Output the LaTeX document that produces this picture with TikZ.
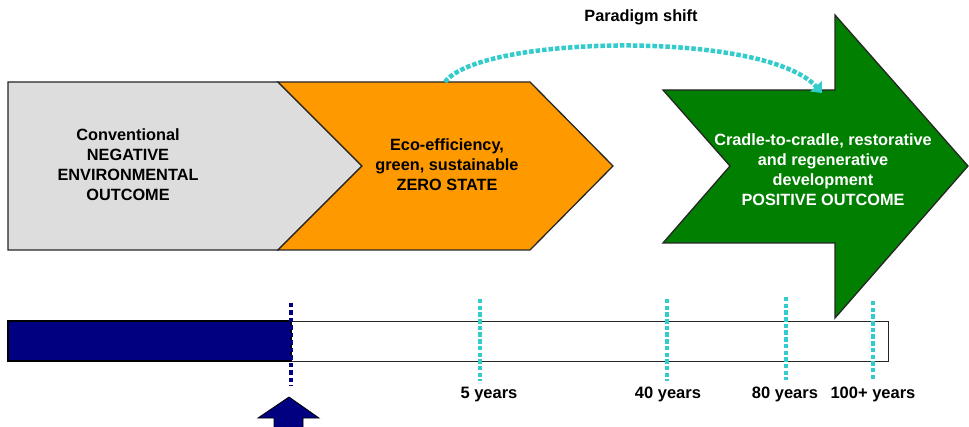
\documentclass[tikz,border=0pt]{standalone}
\usepackage{fontspec}
\setmainfont{Liberation Sans}
\usetikzlibrary{arrows.meta}
\definecolor{greyfill}{HTML}{DDDDDD}
\definecolor{orangefill}{HTML}{FF9900}
\definecolor{greenfill}{HTML}{007F00}
\definecolor{navyfill}{HTML}{000080}
\definecolor{cyanline}{HTML}{33CCCC}
\tikzset{
  shapeline/.style={draw=black!85, line width=1.3pt, line join=miter},
  lbl/.style={font=\bfseries\fontsize{16.3}{20}\selectfont, align=center, inner sep=0pt},
  yearlbl/.style={font=\bfseries\fontsize{16.5}{18}\selectfont, inner sep=0pt, anchor=base},
  cyantick/.style={draw=cyanline, line width=4.5pt, dash pattern=on 4.5pt off 2.2pt},
  navytick/.style={draw=navyfill, line width=4pt, dash pattern=on 4.5pt off 3pt},
}
\begin{document}
\begin{tikzpicture}[x=1pt,y=-1pt]
\useasboundingbox[fill=white] (0,0) rectangle (969,427);
% grey shape
\draw[shapeline, fill=greyfill] (8,82) -- (278,82) -- (362,166) -- (278,250) -- (8,250) -- cycle;
% orange chevron
\draw[shapeline, fill=orangefill] (278,82) -- (530,82) -- (613,166) -- (530,250) -- (278,250) -- (362,166) -- cycle;
% green arrow
\draw[shapeline, fill=greenfill] (663,90) -- (835,90) -- (835,15) -- (968,166) -- (835,318) -- (835,243) -- (663,243) -- (730,166) -- cycle;
% texts
\node[lbl, text=black] (conv) at (128,165) {Conventional\\NEGATIVE\\ENVIRONMENTAL\\OUTCOME};
\node[lbl, text=black] (eco) at (447,165) {Eco-efficiency,\\green, sustainable\\ZERO STATE};
\node[lbl, text=white] (cradle) at (823,170) {Cradle-to-cradle, restorative\\and regenerative\\development\\POSITIVE OUTCOME};
\node[lbl, text=black] (shift) at (641,17) {Paradigm shift};
% paradigm shift curve
\coordinate (ps0) at (445,82);
\coordinate (ps1) at (822,93);
\draw[draw=cyanline, line width=4.5pt, dash pattern=on 4.5pt off 2pt,
  -{Triangle[width=15pt,length=9pt]}] (ps0) .. controls (480,35) and (765,30) .. (ps1);
% timeline bar
\node[draw=black!85, line width=1.3pt, minimum width=880pt, minimum height=40pt, inner sep=0pt, anchor=north west] (bar) at (8,321) {};
\fill[navyfill] (8,321) rectangle (291,361);
\draw[black, line width=1.3pt] (8,321) rectangle (291,361);
% ticks
\coordinate (n0) at (291,303); \coordinate (n1) at (291,386);
\draw[navytick] (n0) -- (n1);
\foreach \x/\t/\b in {480/299/381, 667/299/381, 786/297/380, 873/301/381}{
  \draw[cyantick] (\x,\t) -- (\x,\b);
}
% year labels
\node[yearlbl] (y5) at (489,399) {5 years};
\node[yearlbl] (y40) at (668,399) {40 years};
\node[yearlbl] (y80) at (785,399) {80 years};
\node[yearlbl] (y100) at (873,399) {100+ years};
% bottom up arrow
\fill[navyfill, draw=black, line width=0.8pt] (289,397) -- (319,418) -- (303,418) -- (303,428) -- (274,428) -- (274,418) -- (258,418) -- cycle;
\end{tikzpicture}
\end{document}
